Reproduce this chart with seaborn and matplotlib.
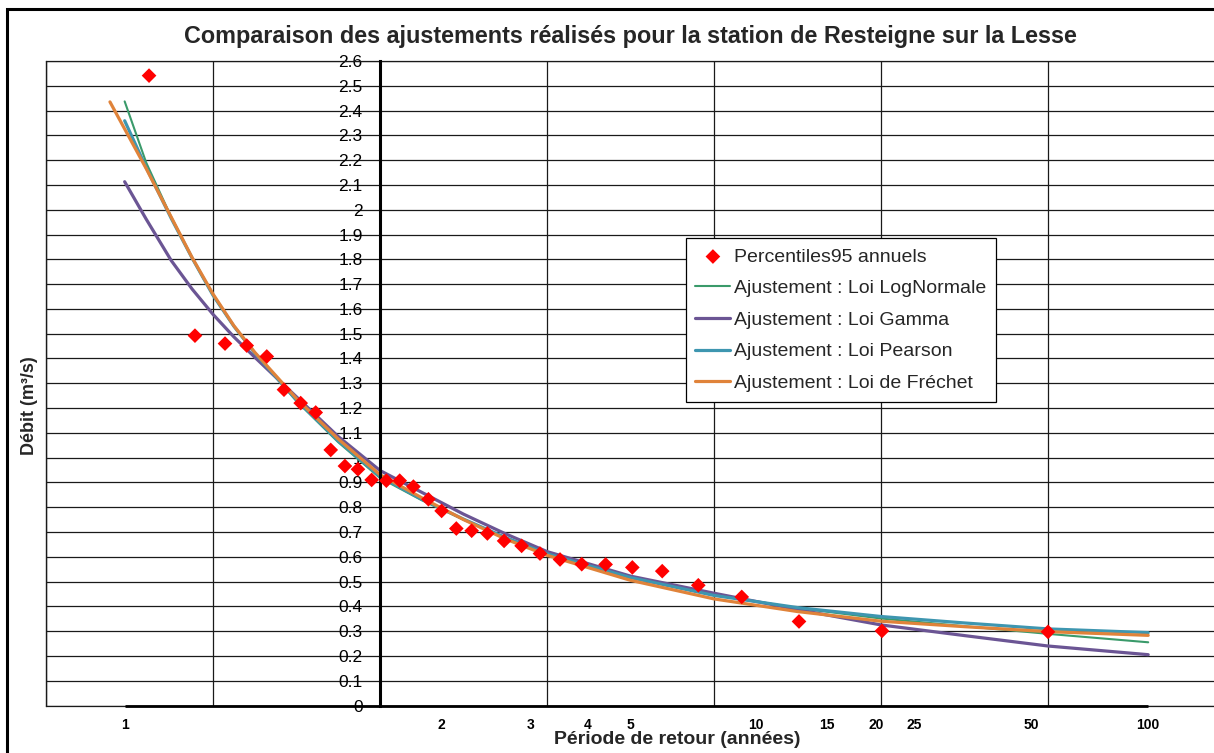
import numpy as np
import matplotlib
matplotlib.use("Agg")
import matplotlib.pyplot as plt
from matplotlib.patches import Rectangle
from matplotlib.ticker import FixedLocator, FuncFormatter
import seaborn as sns

sns.set_style("white")
plt.rcParams["font.family"] = ["Liberation Sans", "DejaVu Sans"]

# ---------------- Données ----------------
titre = "Comparaison des ajustements réalisés pour la station de Resteigne sur la Lesse"
titre_x = "Période de retour (années)"
titre_y = "Débit (m³/s)"

# Variable réduite de Gumbel u = -ln(-ln(1 - 1/T)) des percentiles 95 annuels
u_obs = [-1.383, -1.108, -0.928, -0.798, -0.678, -0.575, -0.475, -0.385, -0.295,
         -0.210, -0.132, -0.050, 0.038, 0.118, 0.200, 0.290, 0.369, 0.457, 0.549,
         0.643, 0.743, 0.848, 0.958, 1.078, 1.208, 1.351, 1.511, 1.690, 1.906,
         2.166, 2.509, 3.006, 4.000]
q_obs = [2.541, 1.492, 1.460, 1.452, 1.408, 1.274, 1.220, 1.182, 1.031, 0.966,
         0.953, 0.910, 0.907, 0.907, 0.883, 0.832, 0.785, 0.714, 0.705, 0.694,
         0.664, 0.644, 0.613, 0.589, 0.570, 0.569, 0.557, 0.542, 0.485, 0.438,
         0.339, 0.301, 0.297]

# Courbes d'ajustement (variable réduite u)
u_ajust = [-1.529, -1.4, -1.25, -1.125, -1.0, -0.875, -0.75, -0.5, -0.25, 0.0, 0.25,
           0.5, 0.75, 1.0, 1.5, 2.0, 2.5, 3.0, 3.5, 4.0, 4.6]
u_frechet = [-1.617] + u_ajust[1:]
q_lognormale = [2.437, 2.19, 1.97, 1.805, 1.655, 1.53, 1.42, 1.228, 1.062, 0.918,
                0.828, 0.750, 0.678, 0.615, 0.518, 0.447, 0.393, 0.351, 0.320,
                0.289, 0.255]
q_gamma = [2.113, 1.962, 1.795, 1.68, 1.578, 1.487, 1.405, 1.245, 1.085, 0.948,
           0.860, 0.772, 0.693, 0.621, 0.522, 0.453, 0.387, 0.325, 0.282, 0.240,
           0.205]
q_pearson = [2.359, 2.17, 1.965, 1.805, 1.655, 1.53, 1.422, 1.232, 1.068, 0.924,
             0.832, 0.752, 0.678, 0.612, 0.516, 0.444, 0.395, 0.359, 0.333, 0.309,
             0.294]
q_frechet = [2.435, 2.166, 1.97, 1.807, 1.66, 1.532, 1.425, 1.238, 1.075, 0.931,
             0.838, 0.750, 0.672, 0.606, 0.505, 0.430, 0.379, 0.340, 0.318, 0.298,
             0.283]

# Graduations de l'axe des périodes de retour
T_graduations = [1.01, 2, 3, 4, 5, 10, 15, 20, 25, 50, 100]
T_etiquettes = ["1", "2", "3", "4", "5", "10", "15", "20", "25", "50", "100"]

lab_obs = "Percentiles95 annuels"
lab_lognormale = "Ajustement : Loi LogNormale"
lab_gamma = "Ajustement : Loi Gamma"
lab_pearson = "Ajustement : Loi Pearson"
lab_frechet = "Ajustement : Loi de Fréchet"


def gumbel_u(T):
    T = np.asarray(T, dtype=float)
    return -np.log(-np.log(1.0 - 1.0 / T))


# ---------------- Figure ----------------
W, H = 1214, 753
fig = plt.figure(figsize=(W / 100, H / 100), dpi=100)
fig.patch.set_facecolor("white")
ax_l, ax_r, ax_t, ax_b = 46, 1215, 61, 705.5
ax = fig.add_axes([ax_l / W, 1 - ax_b / H, (ax_r - ax_l) / W, (ax_b - ax_t) / H])

grid_col = "#1a1a1a"

sns.lineplot(x=u_ajust, y=q_lognormale, ax=ax, color="#3A9A6A", linewidth=1.5,
             label=lab_lognormale, sort=False, estimator=None, zorder=3)
sns.lineplot(x=u_ajust, y=q_gamma, ax=ax, color="#6B5594", linewidth=2.3,
             label=lab_gamma, sort=False, estimator=None, zorder=3)
sns.lineplot(x=u_ajust, y=q_pearson, ax=ax, color="#3E96B0", linewidth=2.3,
             label=lab_pearson, sort=False, estimator=None, zorder=3)
sns.lineplot(x=u_frechet, y=q_frechet, ax=ax, color="#E0833A", linewidth=2.3,
             label=lab_frechet, sort=False, estimator=None, zorder=3)
sns.scatterplot(x=u_obs, y=q_obs, ax=ax, marker="D", s=56, color="#FF0000",
                edgecolor="none", linewidth=0, label=lab_obs, zorder=5)

ax.set_xlim(-2, 5)
ax.set_ylim(0, 2.6)
ax.set_xlabel("")
ax.set_ylabel("")

# Axe Y (au niveau de u = 0)
yt = np.round(np.arange(0, 27) * 0.1, 1)
ax.yaxis.set_major_locator(FixedLocator(yt))
ax.yaxis.set_major_formatter(FuncFormatter(lambda v, p: f"{round(v, 1):g}"))
ax.tick_params(axis="y", direction="out", length=2.5, width=1, pad=10,
               labelsize=12.5, colors="black")
ax.spines["left"].set_position(("data", 0))
ax.spines["left"].set_linewidth(2.2)
ax.spines["left"].set_color("black")
ax.spines["left"].set_zorder(4)
ax.spines["right"].set_visible(False)
ax.spines["top"].set_linewidth(0.9)
ax.spines["top"].set_color(grid_col)
ax.spines["bottom"].set_linewidth(0.9)
ax.spines["bottom"].set_color(grid_col)

# Axe X : périodes de retour sur échelle de Gumbel
ax.xaxis.set_major_locator(FixedLocator(gumbel_u(T_graduations)))
ax.set_xticklabels(T_etiquettes)
ax.xaxis.set_minor_locator(FixedLocator(np.arange(-2, 6)))
ax.tick_params(axis="x", which="major", direction="inout", length=8, width=1,
               pad=5, labelsize=10, colors="black")
ax.tick_params(axis="x", which="minor", length=0)
for lbl in ax.get_xticklabels():
    lbl.set_fontweight("bold")

ax.grid(axis="y", which="major", color=grid_col, linewidth=0.9)
ax.grid(axis="x", which="minor", color=grid_col, linewidth=0.9)
ax.set_axisbelow(True)
ax.axvline(-2, color=grid_col, linewidth=1.0, clip_on=False, zorder=1)

# trait épais de l'axe des périodes de retour
u_lim = gumbel_u([T_graduations[0], T_graduations[-1]])
ax.plot(u_lim, [0, 0], color="black", linewidth=2.0, solid_capstyle="butt",
        clip_on=False, zorder=4)

# Légende
handles, labels = ax.get_legend_handles_labels()
order = [labels.index(l) for l in [lab_obs, lab_lognormale, lab_gamma, lab_pearson, lab_frechet]]
leg = ax.legend([handles[i] for i in order], [labels[i] for i in order],
                loc="upper left",
                bbox_to_anchor=((685.7 - ax_l) / (ax_r - ax_l), 1 - (238.3 - ax_t) / (ax_b - ax_t)),
                borderaxespad=0, frameon=True, fancybox=False, edgecolor="black",
                framealpha=1, fontsize=14, handlelength=1.8, handletextpad=0.2,
                labelspacing=0.72, borderpad=0.5, scatterpoints=1)
leg.get_frame().set_linewidth(0.9)
leg.set_zorder(10)

# Textes
fig.text(630 / W, 1 - 36 / H, titre, ha="center", va="center", fontsize=16.8,
         fontweight="bold")
fig.text(677 / W, 1 - 740 / H, titre_x, ha="center", va="center", fontsize=14,
         fontweight="bold")
fig.text(30 / W, 1 - 406 / H, titre_y, ha="center", va="center", fontsize=13,
         fontweight="bold", rotation=90)

# Cadre du graphique
fig.add_artist(Rectangle((6.5 / W, -0.1), 2.0, (1 - 9 / H) + 0.1,
                         transform=fig.transFigure, fill=False,
                         edgecolor="black", linewidth=2.2))

fig.savefig("out.png", dpi=100)
